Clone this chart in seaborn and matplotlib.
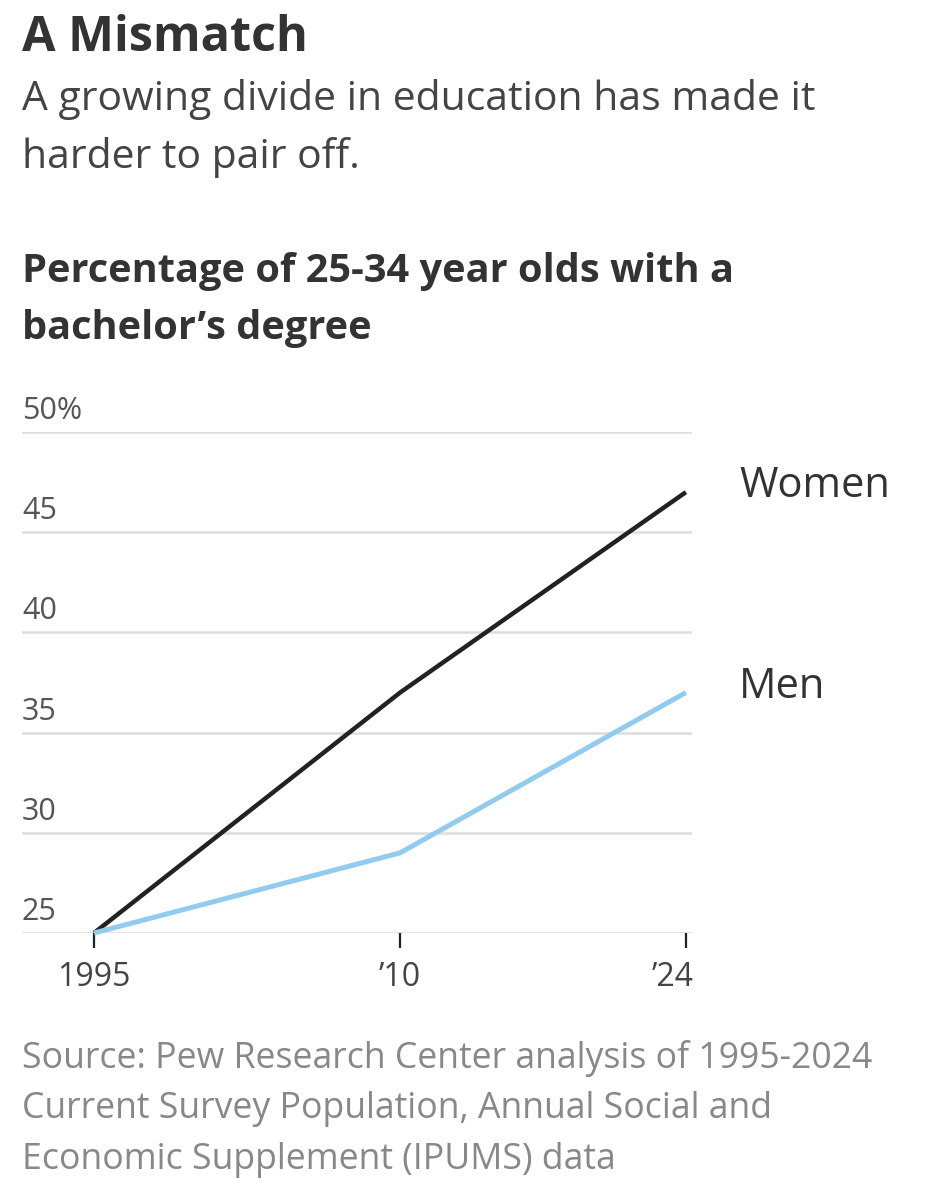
import numpy as np
import pandas as pd
import matplotlib.pyplot as plt
import matplotlib.transforms as mtransforms
import seaborn as sns

# Data
years = [1995, 2010, 2024]
women = [25, 37, 47]
men = [25, 29, 37]
year_labels = ["1995", "\u201910", "\u201924"]
y_ticks = [25, 30, 35, 40, 45, 50]
y_labels = ["25", "30", "35", "40", "45", "50%"]

df = pd.DataFrame({
    "year": years * 2,
    "pct": women + men,
    "group": ["Women"] * 3 + ["Men"] * 3,
})

sns.set_style("white")
plt.rcParams['font.family'] = ['Open Sans', 'DejaVu Sans']

fig = plt.figure(figsize=(9.27, 12), dpi=100)
ax = fig.add_axes([0.0237, 0.2225, 0.7228, 0.4175])

palette = {"Women": "#222222", "Men": "#92cbf0"}
sns.lineplot(data=df, x="year", y="pct", hue="group", palette=palette,
             ax=ax, legend=False, clip_on=False)
for line, lw in zip(ax.lines, [3.2, 3.6]):
    line.set_linewidth(lw)
    line.set_solid_capstyle("butt")

ax.set_xlim(1991.47, 2024.3)
ax.set_ylim(25, 50)
for side in ["top", "right", "left", "bottom"]:
    ax.spines[side].set_visible(False)

# gridlines
for v in y_ticks:
    ax.axhline(v, color="#dddddd", lw=1.8, zorder=0)

# y labels sit above their gridlines
blend = mtransforms.blended_transform_factory(ax.transAxes, ax.transData)
for v, lab in zip(y_ticks, y_labels):
    ax.text(0.0, v + 0.3, lab, transform=blend, ha="left", va="bottom",
            fontsize=22, color="#555555")
ax.set_yticks([])

ax.set_xticks(years)
ax.set_xticklabels(year_labels, fontsize=23, color="#444444")
ax.get_xticklabels()[-1].set_horizontalalignment("right")
ax.get_xticklabels()[-1].set_x(0)
ax.tick_params(axis="x", length=11, width=1.6, color="#222222", pad=9,
               direction="out", bottom=True)
# nudge last label so it ends at the tick, as in the original
offset = mtransforms.ScaledTranslation(8 / 100, 0, fig.dpi_scale_trans)
lbl = ax.get_xticklabels()[-1]
lbl.set_transform(lbl.get_transform() + offset)
ax.set_xlabel("")
ax.set_ylabel("")

# series labels
ax.text(2024 + 2.6, women[-1] + 0.3, "Women", fontsize=30, color="#333333",
        va="center", ha="left", clip_on=False)
ax.text(2024 + 2.6, men[-1] + 0.3, "Men", fontsize=30, color="#333333",
        va="center", ha="left", clip_on=False)

# titles
fig.text(0.024, 0.968, "A Mismatch", fontsize=35, fontweight="bold",
         color="#333333", va="center")
fig.text(0.024, 0.917, "A growing divide in education has made it",
         fontsize=29.4, color="#444444", va="center")
fig.text(0.024, 0.869, "harder to pair off.", fontsize=29.4, color="#444444",
         va="center")
fig.text(0.024, 0.774, "Percentage of 25-34 year olds with a", fontsize=28.6,
         fontweight="bold", color="#333333", va="center")
fig.text(0.024, 0.726, "bachelor\u2019s degree", fontsize=28.6,
         fontweight="bold", color="#333333", va="center")

# source
src = ["Source: Pew Research Center analysis of 1995-2024",
       "Current Survey Population, Annual Social and",
       "Economic Supplement (IPUMS) data"]
for i, s in enumerate(src):
    fig.text(0.024, 0.118 - i * 0.0425, s, fontsize=25.7, color="#888888",
             va="center")

fig.savefig("out.png", dpi=100, facecolor="white")
